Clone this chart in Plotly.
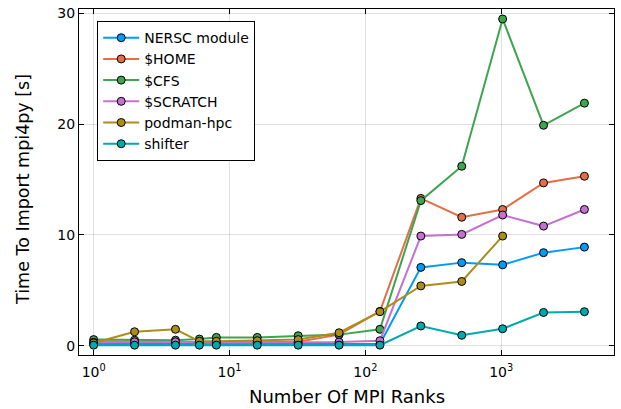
import plotly.graph_objects as go

ranks = [1, 2, 4, 6, 8, 16, 32, 64, 128, 256, 512, 1024, 2048, 4096]
nersc_module = [0.15, 0.15, 0.15, 0.15, 0.15, 0.15, 0.15, 0.15, 0.15, 7.07, 7.5, 7.3, 8.4, 8.9]
home = [0.4, 0.35, 0.35, 0.3, 0.3, 0.3, 0.35, 1.0, 3.1, 13.3, 11.6, 12.3, 14.7, 15.3]
cfs = [0.55, 0.5, 0.5, 0.6, 0.75, 0.75, 0.9, 1.0, 1.48, 13.1, 16.2, 29.5, 19.9, 21.9]
scratch = [0.3, 0.35, 0.35, 0.3, 0.3, 0.3, 0.3, 0.33, 0.45, 9.9, 10.05, 11.8, 10.8, 12.3]
podman_hpc = [0.25, 1.26, 1.48, 0.4, 0.4, 0.45, 0.55, 1.17, 3.07, 5.4, 5.8, 9.9, None, None]
shifter = [0.05, 0.05, 0.05, 0.05, 0.05, 0.05, 0.05, 0.05, 0.05, 1.78, 0.94, 1.53, 3.0, 3.07]

series = [
    ("NERSC module", nersc_module, "#009AFA"),
    ("$HOME", home, "#E36F47"),
    ("$CFS", cfs, "#3EA44E"),
    ("$SCRATCH", scratch, "#C371D2"),
    ("podman-hpc", podman_hpc, "#AC8D18"),
    ("shifter", shifter, "#00A9AD"),
]

x_ticks = [1, 10, 100, 1000]
x_ticktext = ["10<sup>0</sup>", "10<sup>1</sup>", "10<sup>2</sup>", "10<sup>3</sup>"]
y_ticks = [0, 10, 20, 30]
x_title = "Number Of MPI Ranks"
y_title = "Time To Import mpi4py [s]"

fig = go.Figure()
for name, vals, col in series:
    xs = [r for r, v in zip(ranks, vals) if v is not None]
    ys = [v for v in vals if v is not None]
    fig.add_trace(go.Scatter(
        x=xs, y=ys, name=name, mode="lines+markers",
        line=dict(color=col, width=2),
        marker=dict(color=col, size=8, line=dict(color="black", width=1)),
    ))

axis_common = dict(
    showgrid=True, gridcolor="rgba(0,0,0,0.12)", gridwidth=1,
    showline=True, linecolor="black", linewidth=1, mirror="ticks",
    ticks="inside", ticklen=5, tickcolor="black",
    zeroline=False, automargin=False,
    tickfont=dict(family="DejaVu Sans", size=14, color="black"),
)

fig.update_layout(
    width=621, height=409,
    margin=dict(l=79, r=7, t=9, b=54),
    paper_bgcolor="white", plot_bgcolor="white",
    font=dict(family="DejaVu Sans", color="black"),
    xaxis=dict(type="log", range=[-0.108, 3.83], tickvals=x_ticks, ticktext=x_ticktext,
               ticklabelstandoff=4, **axis_common),
    yaxis=dict(range=[-0.84, 30.4], tickvals=y_ticks, **axis_common),
    legend=dict(x=0.034, y=0.965, xanchor="left", yanchor="top",
                bgcolor="white", bordercolor="black", borderwidth=1,
                font=dict(size=14), tracegroupgap=0, itemwidth=36),
    showlegend=True,
    annotations=[
        dict(text=x_title, xref="paper", yref="paper", x=0.5, y=-0.121,
             xanchor="center", yanchor="middle", showarrow=False,
             font=dict(size=18, family="DejaVu Sans", color="black")),
        dict(text=y_title, xref="paper", yref="paper", x=-0.1047, y=0.48,
             xanchor="center", yanchor="middle", showarrow=False, textangle=-90,
             font=dict(size=17.5, family="DejaVu Sans", color="black")),
    ],
)

fig.write_html("out.html", config={"displayModeBar": False},
               post_script="document.body.style.margin='0';document.body.style.overflow='hidden';")
